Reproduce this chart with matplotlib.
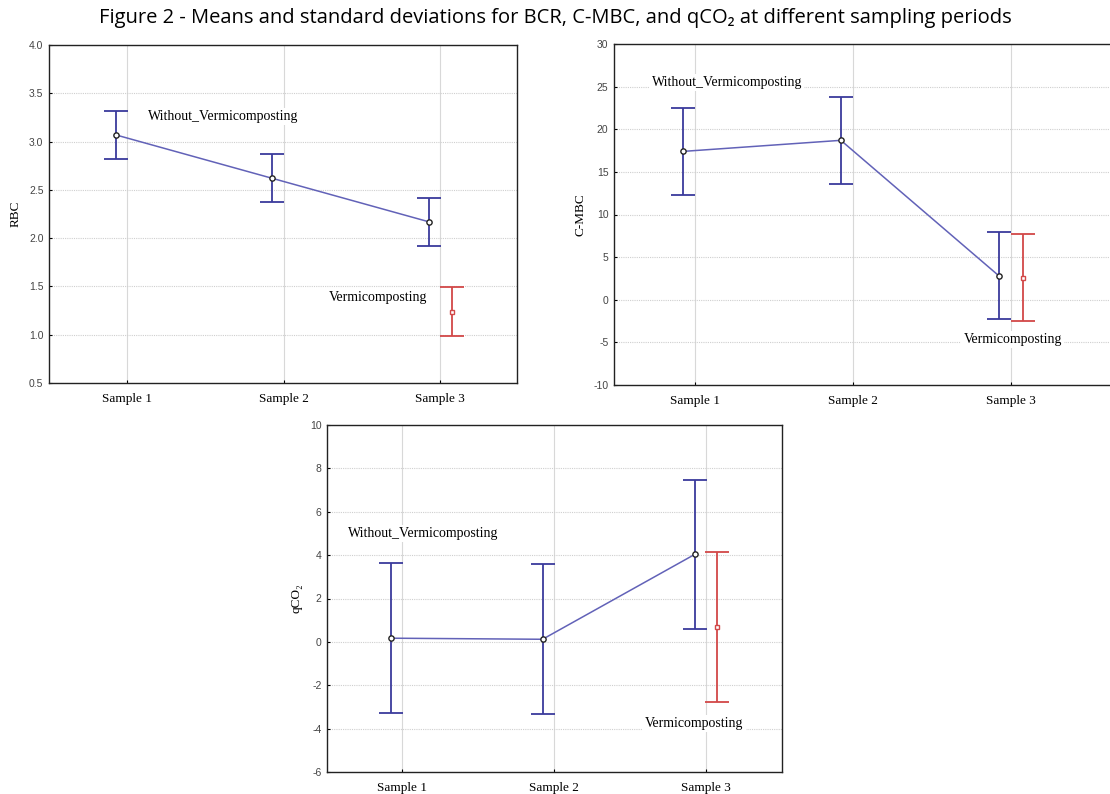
import numpy as np
import matplotlib.pyplot as plt

samples = ["Sample 1", "Sample 2", "Sample 3"]

# RBC
rbc_without = [3.07, 2.62, 2.17]
rbc_without_sd = [0.25, 0.25, 0.25]
rbc_vermi = 1.24
rbc_vermi_sd = 0.25

# C-MBC
cmbc_without = [17.4, 18.7, 2.8]
cmbc_without_sd = [5.1, 5.1, 5.1]
cmbc_vermi = 2.6
cmbc_vermi_sd = 5.1

# qCO2
qco2_without = [0.17, 0.12, 4.03]
qco2_without_sd = [3.45, 3.45, 3.43]
qco2_vermi = 0.69
qco2_vermi_sd = 3.45

BLUE = "#3a3a9c"
LINE = "#6262b8"
RED = "#d24848"
SERIF = ["Liberation Serif", "DejaVu Serif"]
SANS = ["Liberation Sans", "DejaVu Sans"]

fig = plt.figure(figsize=(11.1, 7.94), dpi=100)


def panel(rect, without, without_sd, vermi, vermi_sd, ylim, yticks, yfmt,
          ylabel, xlim, lab1, lab2):
    ax = fig.add_axes(rect)
    x = np.arange(1, 4)
    xb = x - 0.075
    ax.plot(xb, without, color=LINE, lw=1.1, zorder=3)
    ax.errorbar(xb, without, yerr=without_sd, fmt="none", ecolor=BLUE,
                elinewidth=1.3, capsize=8.5, capthick=1.3, zorder=4)
    ax.plot(xb, without, "o", ms=3.8, mfc="white", mec="#222222", mew=1.0, zorder=5)
    ax.errorbar([3 + 0.075], [vermi], yerr=[vermi_sd], fmt="none", ecolor=RED,
                elinewidth=1.3, capsize=8.5, capthick=1.3, zorder=4)
    ax.plot([3 + 0.075], [vermi], "s", ms=3.3, mfc="white", mec=RED, mew=1.0, zorder=5)

    ax.set_xlim(*xlim)
    ax.set_ylim(*ylim)
    ax.set_xticks(x)
    ax.set_xticklabels(samples, family=SERIF, fontsize=9.5)
    ax.set_yticks(yticks)
    ax.set_yticklabels([yfmt.format(v) for v in yticks], family=SANS,
                       fontsize=7.5, color="#444444")
    ax.tick_params(axis="both", direction="in", length=2, width=0.8, pad=4)
    ax.tick_params(axis="x", pad=7)
    ax.set_ylabel(ylabel, family=SERIF, fontsize=9.5, labelpad=5)
    ax.grid(axis="y", color="#cfcfcf", lw=0.8, ls=(0, (1, 1)))
    ax.grid(axis="x", color="#d8d8d8", lw=0.8, ls="-")
    ax.set_axisbelow(True)
    for s in ax.spines.values():
        s.set_color("#222222")
        s.set_linewidth(1.0)

    box = dict(facecolor="white", edgecolor="none", pad=1.5)
    ax.text(lab1[0], lab1[1], "Without_Vermicomposting", family=SERIF,
            fontsize=10, ha="left", va="center", bbox=box, zorder=6)
    ax.text(lab2[0], lab2[1], "Vermicomposting", family=SERIF,
            fontsize=10, ha="left", va="center", bbox=box, zorder=6)
    return ax


panel([49 / 1110, 1 - 383 / 794, 468 / 1110, 338 / 794],
      rbc_without, rbc_without_sd, rbc_vermi, rbc_vermi_sd,
      (0.5, 4.0), np.arange(0.5, 4.01, 0.5), "{:.1f}", "RBC",
      (0.5, 3.49), (1.13, 3.26), (2.29, 1.39))

panel([614 / 1110, 1 - 385 / 794, 498 / 1110, 341 / 794],
      cmbc_without, cmbc_without_sd, cmbc_vermi, cmbc_vermi_sd,
      (-10, 30), np.arange(-10, 31, 5), "{:.0f}", "C-MBC",
      (0.49, 3.64), (0.73, 25.5), (2.70, -4.68))

panel([327 / 1110, 1 - 772 / 794, 455 / 1110, 347 / 794],
      qco2_without, qco2_without_sd, qco2_vermi, qco2_vermi_sd,
      (-6, 10), np.arange(-6, 11, 2), "{:.0f}", "qCO₂",
      (0.507, 3.5), (0.645, 5.0), (2.60, -3.77))

fig.text(0.5, 1 - 18 / 794, "Figure 2 - Means and standard deviations for BCR, C-MBC, and qCO₂ at different sampling periods",
         ha="center", va="center", fontsize=14.5, family=["Open Sans", "DejaVu Sans"])

fig.savefig("out.png", dpi=100)
